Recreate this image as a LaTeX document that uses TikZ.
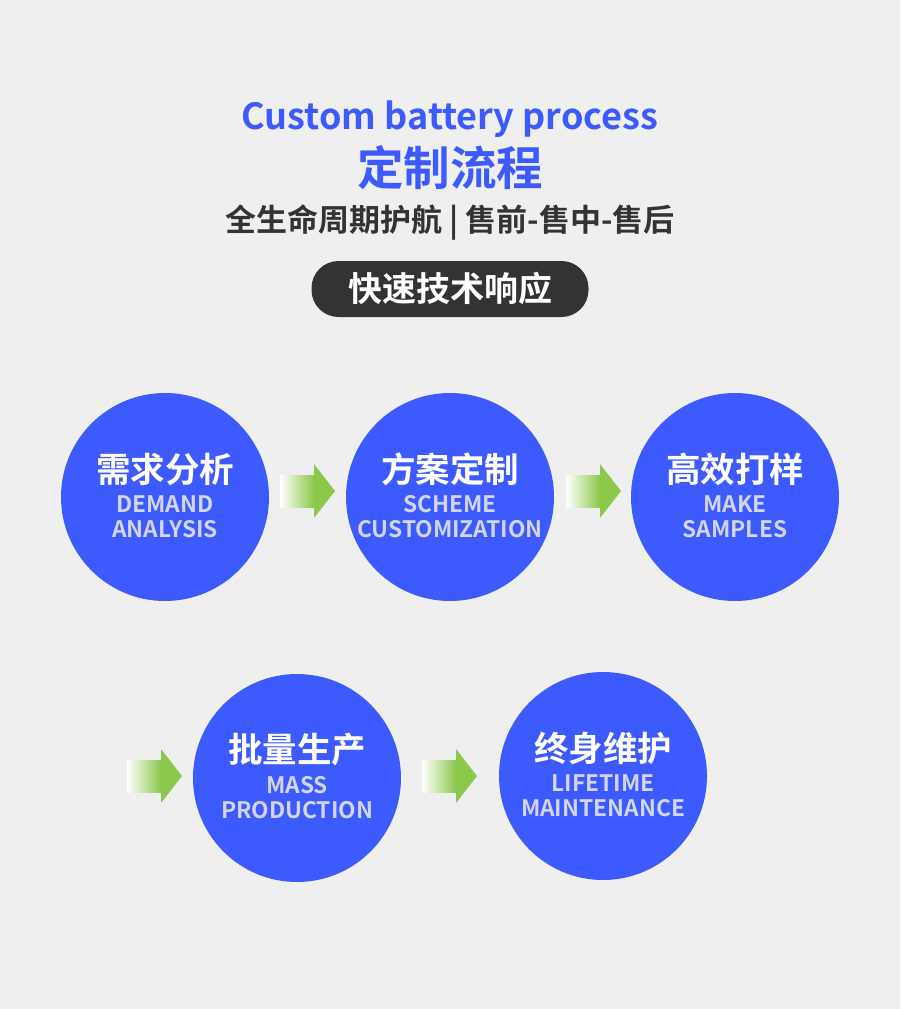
\documentclass[tikz,border=0pt]{standalone}
\usepackage{fontspec}
\setmainfont{Noto Sans CJK SC}[BoldFont={* Bold}]
\usetikzlibrary{shadings}
\definecolor{bg}{HTML}{EFEFEF}
\definecolor{blu}{HTML}{3D5AFE}
\definecolor{grn}{HTML}{8CC84B}
\definecolor{dark}{HTML}{333333}
\definecolor{sub}{HTML}{D2D4E8}
\tikzset{
 stepc/.style={circle,fill=blu,minimum size=208pt,inner sep=0pt},
 cn/.style={font=\fontsize{34.5}{34.5}\selectfont\bfseries,text=white},
 en/.style={font=\fontsize{22.7}{25}\selectfont\bfseries,text=sub,align=center},
}
\newcommand{\garrow}[2]{%
 \shade[left color=grn!0,right color=grn] (#1-34,#2-16) rectangle (#1,#2+16);
 \fill[grn] (#1,#2-27) -- (#1+21,#2) -- (#1,#2+27) -- cycle;}
\begin{document}
\begin{tikzpicture}[x=1pt,y=-1pt]
\fill[bg] (0,0) rectangle (900,1009);
\useasboundingbox (0,0) rectangle (900,1009);
\node[text=blu,font=\fontsize{36}{36}\selectfont\bfseries] (t1) at (450,119) {Custom battery process};
\node[text=blu,font=\fontsize{46.5}{46.5}\selectfont\bfseries] (t2) at (450,168) {定制流程};
\node[text=dark,font=\fontsize{31}{31}\selectfont\bfseries] (t3) at (450,222) {全生命周期护航 | 售前-售中-售后};
\node[fill=dark,rounded corners=27pt,minimum width=277pt,minimum height=56pt,text=white,font=\fontsize{34}{34}\selectfont\bfseries] (pill) at (450,289) {快速技术响应};
\foreach \n/\x/\y/\c/\e in {a/165/497/需求分析/DEMAND\\ANALYSIS, b/450/497/方案定制/SCHEME\\CUSTOMIZATION, c/735/497/高效打样/MAKE\\SAMPLES, d/297/778/批量生产/MASS\\PRODUCTION, e/603/776/终身维护/LIFETIME\\MAINTENANCE}{
 \node[stepc] (\n) at (\x,\y) {};
 \node[cn] (\n c) at (\x,\y-28) {\c};
 \node[en] (\n e) at (\x,\y+20) {\e};
}
\garrow{314}{491}
\garrow{600}{491}
\garrow{161}{776}
\garrow{456}{776}
\end{tikzpicture}
\end{document}
